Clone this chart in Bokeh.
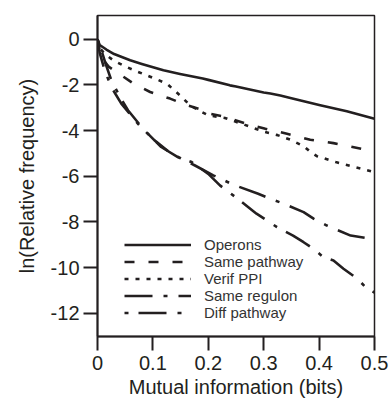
from bokeh.plotting import figure
from bokeh.models import Legend, LegendItem, Range1d
from bokeh.embed import file_html
from bokeh.resources import INLINE

# ---- data ----
operons_x = [0, 0.004, 0.01, 0.016, 0.03, 0.059, 0.08, 0.119, 0.149, 0.19, 0.2, 0.239, 0.25, 0.3, 0.312, 0.33, 0.35, 0.402, 0.45, 0.5]
operons_y = [0, -0.25, -0.35, -0.45, -0.65, -0.92, -1.08, -1.36, -1.52, -1.72, -1.78, -2.02, -2.07, -2.33, -2.38, -2.46, -2.58, -2.89, -3.15, -3.48]

pathway_x = [0, 0.004, 0.012, 0.02, 0.034, 0.065, 0.095, 0.131, 0.161, 0.185, 0.2, 0.23, 0.266, 0.303, 0.342, 0.384, 0.426, 0.48]
pathway_y = [0, -0.5, -0.95, -1.2, -1.43, -1.94, -2.31, -2.6, -2.89, -3.06, -3.25, -3.4, -3.68, -3.92, -4.14, -4.4, -4.55, -4.82]

ppi_x = [0, 0.004, 0.016, 0.03, 0.052, 0.07, 0.089, 0.107, 0.125, 0.149, 0.167, 0.182, 0.2, 0.23, 0.266, 0.3, 0.325, 0.348, 0.372, 0.385, 0.396, 0.43, 0.465, 0.5]
ppi_y = [0, -0.4, -0.7, -0.95, -1.21, -1.4, -1.58, -1.76, -1.94, -2.46, -2.89, -3.11, -3.33, -3.45, -3.75, -4.05, -4.2, -4.4, -4.68, -4.95, -5.12, -5.38, -5.6, -5.82]

regulon_x = [0, 0.004, 0.013, 0.025, 0.043, 0.073, 0.103, 0.133, 0.149, 0.176, 0.209, 0.245, 0.29, 0.312, 0.336, 0.372, 0.39, 0.414, 0.457, 0.493, 0.5]
regulon_y = [0, -0.6, -1.36, -2.1, -2.82, -3.7, -4.43, -5.01, -5.2, -5.53, -5.96, -6.37, -6.77, -6.99, -7.2, -7.57, -7.86, -8.16, -8.6, -8.74, -8.8]

diff_x = [0, 0.003, 0.007, 0.015, 0.025, 0.04, 0.055, 0.085, 0.115, 0.145, 0.17, 0.2, 0.221, 0.257, 0.287, 0.324, 0.353, 0.372, 0.39, 0.408, 0.426, 0.444, 0.469, 0.484, 0.5]
diff_y = [0, -0.25, -0.48, -1.1, -1.8, -2.5, -3.11, -4.0, -4.72, -5.16, -5.38, -5.9, -6.4, -7.06, -7.64, -8.23, -8.6, -8.89, -9.18, -9.55, -9.69, -10.05, -10.49, -10.86, -11.1]

series_names = ["Operons", "Same pathway", "Verif PPI", "Same regulon", "Diff pathway"]

x_ticks = [0, 0.1, 0.2, 0.3, 0.4, 0.5]
x_tick_labels = ["0", "0.1", "0.2", "0.3", "0.4", "0.5"]
y_ticks = [0, -2, -4, -6, -8, -10, -12]
y_tick_labels = ["0", "-2", "-4", "-6", "-8", "-10", "-12"]

FONT = "Liberation Sans"
INK = "#231f20"

p = figure(width=390, height=406, output_backend="svg", toolbar_location=None,
           x_range=Range1d(0, 0.5), y_range=Range1d(-13.02, 1.04),
           min_border_left=97, min_border_right=16, min_border_top=15, min_border_bottom=70)
p.xgrid.visible = False
p.ygrid.visible = False
p.outline_line_color = INK
p.outline_line_width = 1.5
p.background_fill_color = "white"
p.border_fill_color = "white"

styles = [
    (operons_x, operons_y, "solid"),
    (pathway_x, pathway_y, "10 14"),
    (ppi_x, ppi_y, "4 7"),
    (regulon_x, regulon_y, "28 11 4 11"),
    (diff_x, diff_y, "4 10 28 11"),
]
items = []
for (xs, ys, dash), name in zip(styles, series_names):
    r = p.line(xs, ys, line_color=INK, line_width=2.6, line_dash=dash, line_join="round")
    items.append(LegendItem(label=name, renderers=[r]))

legend = Legend(items=items, location=(27, 15), padding=0, margin=0, spacing=0,
                glyph_width=67, glyph_height=13, label_height=13, label_standoff=13,
                border_line_color=None, background_fill_alpha=0,
                label_text_font=FONT, label_text_font_size="15px", label_text_color="#333333")
p.add_layout(legend)

for ax in (p.xaxis[0], p.yaxis[0]):
    ax.axis_line_width = 2
    ax.axis_line_color = INK
    ax.major_tick_line_width = 2
    ax.major_tick_line_color = INK
    ax.major_tick_out = 14
    ax.major_tick_in = 0
    ax.minor_tick_line_color = None
    ax.major_label_text_font = FONT
    ax.major_label_text_font_size = "20px"
    ax.major_label_text_color = INK
    ax.axis_label_text_font = FONT
    ax.axis_label_text_font_size = "20px"
    ax.axis_label_text_font_style = "normal"
    ax.axis_label_text_color = INK

p.xaxis.ticker = x_ticks
p.xaxis.major_label_overrides = dict(zip(x_ticks, x_tick_labels))
p.yaxis.ticker = y_ticks
p.yaxis.major_label_overrides = dict(zip(y_ticks, y_tick_labels))
p.xaxis.axis_label = "Mutual information (bits)"
p.yaxis.axis_label = "ln(Relative frequency)"
p.xaxis.major_label_standoff = 5
p.xaxis.axis_label_standoff = 3
p.yaxis.major_label_standoff = 4
p.yaxis.axis_label_standoff = 10

open("out.html", "w").write(file_html(p, INLINE))
